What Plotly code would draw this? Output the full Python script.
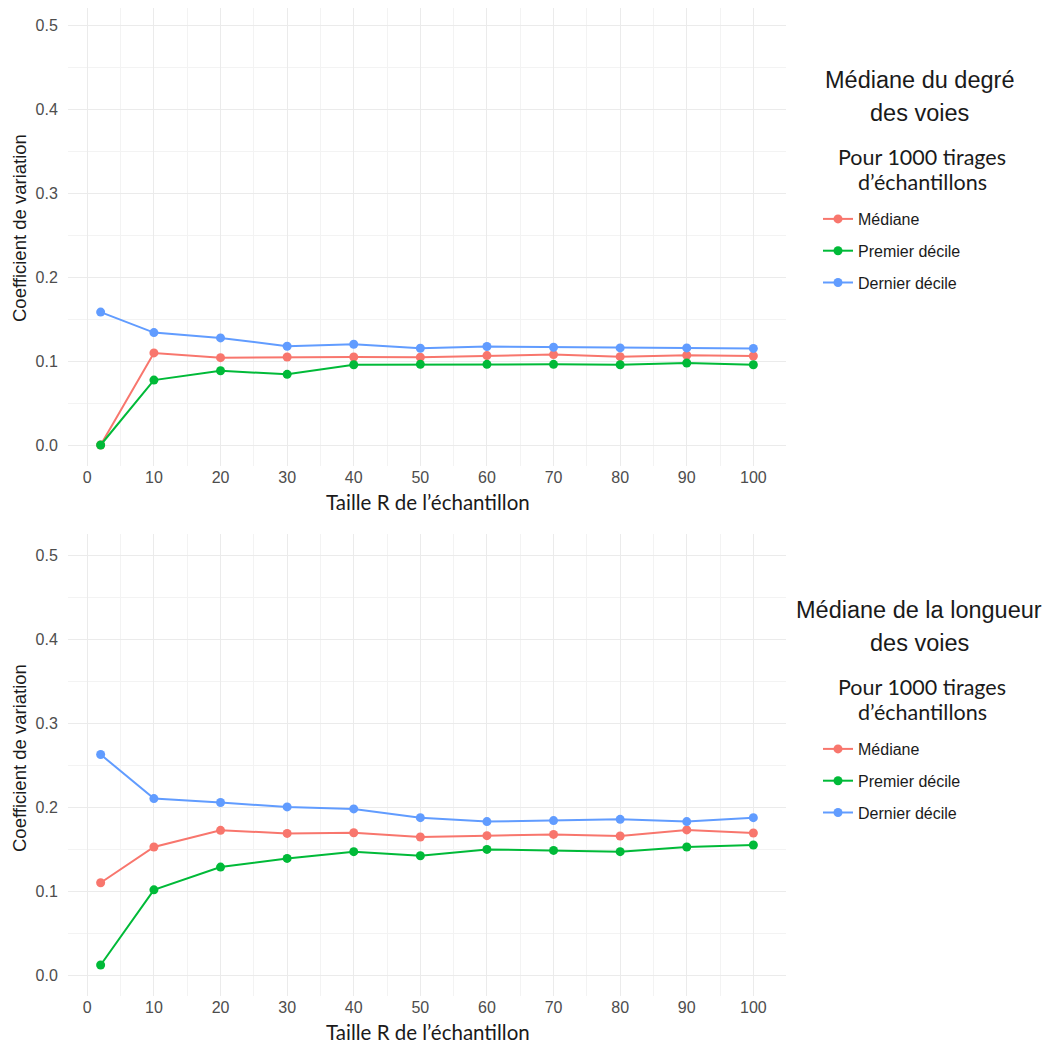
import plotly.graph_objects as go

# ---- data ----
taille_r = [2, 10, 20, 30, 40, 50, 60, 70, 80, 90, 100]

degre_mediane = [0.0, 0.1096, 0.1040, 0.1048, 0.1048, 0.1044, 0.1064, 0.1076, 0.1052, 0.1068, 0.1060]
degre_premier = [0.0, 0.0773, 0.0884, 0.0841, 0.0956, 0.0960, 0.0960, 0.0960, 0.0956, 0.0976, 0.0956]
degre_dernier = [0.1582, 0.1338, 0.1275, 0.1176, 0.1200, 0.1152, 0.1172, 0.1164, 0.1156, 0.1156, 0.1150]

long_mediane = [0.1098, 0.1524, 0.1722, 0.1686, 0.1694, 0.1643, 0.1659, 0.1674, 0.1655, 0.1727, 0.1691]
long_premier = [0.0119, 0.1014, 0.1285, 0.1388, 0.1468, 0.1420, 0.1495, 0.1483, 0.1468, 0.1524, 0.1548]
long_dernier = [0.2625, 0.2100, 0.2053, 0.2001, 0.1977, 0.1873, 0.1826, 0.1838, 0.1853, 0.1826, 0.1873]

series_names = ["Médiane", "Premier décile", "Dernier décile"]
series_colors = ["#F8766D", "#00BA38", "#619CFF"]

x_ticks = [0, 10, 20, 30, 40, 50, 60, 70, 80, 90, 100]
x_minor = [5, 15, 25, 35, 45, 55, 65, 75, 85, 95]
y_ticks = [0.0, 0.1, 0.2, 0.3, 0.4, 0.5]
y_ticklabels = ["0.0", "0.1", "0.2", "0.3", "0.4", "0.5"]
y_minor = [0.05, 0.15, 0.25, 0.35, 0.45]

panel_titles = [["Médiane du degré", "des voies"], ["Médiane de la longueur", "des voies"]]
legend_subtitle = ["Pour 1000 tirages", "d’échantillons"]
x_title = "Taille R de l’échantillon"
y_title = "Coefficient de variation"

# ---- layout constants ----
# the page body has an 8px margin, so the figure is drawn 8px smaller and
# all reference pixel positions are shifted by that margin
BODY = 8
W, H = 1050 - BODY, 1041 - BODY
SANS = "Liberation Sans, Arial, sans-serif"
HUMAN = "Lato, Open Sans, sans-serif"
panel_offset = 530  # vertical px offset between the two panels
Y_LO = -0.025
PX_PER_UNIT = 462 / 0.55


def py(px):
    return 1 - (px - BODY) / H


def pxx(px):
    return (px - BODY) / W


fig = go.Figure()

panels = [
    (degre_mediane, degre_premier, degre_dernier),
    (long_mediane, long_premier, long_dernier),
]

for p, vals in enumerate(panels):
    sfx = "" if p == 0 else str(p + 1)
    for i, (name, col, v) in enumerate(zip(series_names, series_colors, vals)):
        fig.add_trace(go.Scatter(
            x=taille_r, y=v, mode="lines+markers", name=name,
            line=dict(color=col, width=2),
            marker=dict(color=col, size=9),
            xaxis="x" + sfx, yaxis="y" + sfx,
            legend="legend" + sfx, legendgroup=f"g{p}_{i}",
        ))

axis_common_x = dict(
    range=[-2.9, 104.9], tickmode="array", tickvals=x_ticks,
    showgrid=True, gridcolor="#EBEBEB", gridwidth=1.1,
    minor=dict(tickmode="array", tickvals=x_minor, showgrid=True, gridcolor="#F3F3F3", gridwidth=0.7, ticks=""),
    zeroline=False, showline=False, ticks="", 
    tickfont=dict(family=SANS, size=16, color="#4D4D4D"), automargin=False, fixedrange=True,
)
axis_common_y = dict(
    tickmode="array", tickvals=y_ticks, ticktext=y_ticklabels,
    showgrid=True, gridcolor="#EBEBEB", gridwidth=1.1,
    minor=dict(tickmode="array", tickvals=y_minor, showgrid=True, gridcolor="#F3F3F3", gridwidth=0.7, ticks=""),
    zeroline=False, showline=False, ticks="outside", ticklen=6, tickcolor="rgba(0,0,0,0)",
    tickfont=dict(family=SANS, size=16, color="#4D4D4D"), automargin=False, fixedrange=True,
)

layout = dict(
    width=W, height=H, margin=dict(l=0, r=0, t=0, b=0),
    paper_bgcolor="white", plot_bgcolor="white", showlegend=True,
)

annotations = []
for p in range(2):
    off = p * panel_offset
    sfx = "" if p == 0 else str(p + 1)
    bot = 466 + off
    top = max(4 + off, BODY)
    y_hi = Y_LO + (bot - top) / PX_PER_UNIT
    layout["xaxis" + sfx] = dict(axis_common_x, domain=[pxx(68), pxx(786)], anchor="y" + sfx)
    layout["yaxis" + sfx] = dict(axis_common_y, range=[Y_LO, y_hi],
                                 domain=[py(bot), min(1.0, py(top))], anchor="x" + sfx)
    layout["legend" + sfx] = dict(
        x=pxx(818), y=py(202 + off), xanchor="left", yanchor="top",
        font=dict(family=SANS, size=16, color="#1A1A1A"),
        bgcolor="rgba(0,0,0,0)", traceorder="grouped", tracegroupgap=8,
        itemclick=False, itemdoubleclick=False,
    )
    # axis titles
    annotations.append(dict(text=x_title, x=pxx(428), y=py(502 + off), xref="paper", yref="paper",
                            showarrow=False, xanchor="center", yanchor="middle",
                            font=dict(family=HUMAN, size=20.5, color="#1A1A1A")))
    annotations.append(dict(text=y_title, x=pxx(19), y=py(228 + off), xref="paper", yref="paper",
                            showarrow=False, xanchor="center", yanchor="middle", textangle=-90,
                            font=dict(family=SANS, size=18.5, color="#1A1A1A")))
    # legend titles
    for line, ypx in zip(panel_titles[p], [80, 113]):
        annotations.append(dict(text=line, x=pxx(919), y=py(ypx + off), xref="paper", yref="paper",
                                showarrow=False, xanchor="center", yanchor="middle",
                                font=dict(family=SANS, size=23.5, color="#1A1A1A")))
    for line, ypx in zip(legend_subtitle, [157, 182]):
        annotations.append(dict(text=line, x=pxx(922), y=py(ypx + off), xref="paper", yref="paper",
                                showarrow=False, xanchor="center", yanchor="middle",
                                font=dict(family=HUMAN, size=21.5, color="#1A1A1A")))

layout["annotations"] = annotations
fig.update_layout(**layout)

fig.write_html("out.html")
